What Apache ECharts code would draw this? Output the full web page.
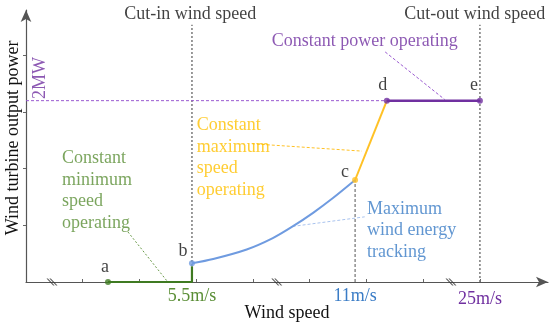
<!DOCTYPE html>
<html><head><meta charset="utf-8">
<script src="https://cdn.jsdelivr.net/npm/echarts@6/dist/echarts.min.js"></script>
<style>html,body{margin:0;padding:0;background:#fff}#c{width:550px;height:328px}</style>
</head><body><div id="c"></div>
<script>
// ---- data ----
const xTickLabels = ['5.5m/s', '11m/s', '25m/s'];
const xTickValues = [2.925, 5.80, 8.0];
const cutInX = 2.925, cutOutX = 8.0, ratedX = 5.80;
const ratedPower = 3.2;
const pointNames = ['a', 'b', 'c', 'd', 'e'];
const pointXY = [[1.445, 0], [2.925, 0.33], [5.80, 1.80], [6.36, 3.2], [8.0, 3.2]];
const minSpeedSeg = [[1.445, 0], [2.925, 0], [2.925, 0.28]];
const mpptCurve = [[2.925, 0.33], [3.30, 0.406], [3.89, 0.574], [4.35, 0.775], [4.70, 0.981], [5.06, 1.221], [5.41, 1.482], [5.80, 1.80]];
const maxSpeedSeg = [[5.80, 1.80], [6.36, 3.2]];
const constPowerSeg = [[6.36, 3.2], [8.0, 3.2]];
const breakXs = [0.458, 4.42, 7.49];
const xTicks = [1, 2, 3, 4, 5, 6, 7, 8];
const yTicks = [1, 2, 3, 4];

const GREEN = '#3f7a22', GREEN_T = '#5a8e36', BLUE = '#6f9be0', BLUE_T = '#3a7cc6',
      ORANGE = '#ffc125', ORANGE_T = '#ffc000', PURPLE = '#7030a0', GREY = '#7a7a7a';
const FONT = '"Liberation Serif", "Times New Roman", serif';
const FS = 18;

const chart = echarts.init(document.getElementById('c'));
function lineS(data, color, width, type, extra) {
  return Object.assign({ type: 'line', data: data, symbol: 'none', silent: true,
    lineStyle: { color: color, width: width, type: type }, z: 2 }, extra || {});
}
function note(x, y, text, color, align, vAlign) {
  return { value: [x, y], label: { show: true, formatter: text, color: color,
    align: align || 'left', verticalAlign: vAlign || 'top' } };
}
const labelColors = [GREEN_T, BLUE_T, PURPLE];
const letterOffsets = [[-3, -15], [-9, -12], [-10, -8], [-4, -15], [-6, -15]];
const pointColors = [GREEN, BLUE, ORANGE, PURPLE, PURPLE];

chart.setOption({
  animation: false,
  textStyle: { fontFamily: FONT },
  grid: { left: 26, right: 2, top: 10, bottom: 46, outerBoundsMode: 'none', containLabel: false },
  xAxis: {
    type: 'value', min: 0, max: 9.2,
    name: 'Wind speed', nameLocation: 'middle', nameGap: 22, nameMoveOverlap: false,
    nameTextStyle: { fontFamily: FONT, fontSize: FS, color: '#111' },
    axisLine: { lineStyle: { color: '#555', width: 1.2 }, symbol: ['none', 'arrow'], symbolSize: [8, 12] },
    axisTick: { show: true, inside: true, length: 3, customValues: xTicks, lineStyle: { color: '#666' } },
    axisLabel: { customValues: xTickValues, margin: 5, fontFamily: FONT, fontSize: FS,
      formatter: function (v) { const i = xTickValues.indexOf(v); return '{c' + i + '|' + xTickLabels[i] + '}'; },
      rich: { c0: { color: labelColors[0], fontFamily: FONT, fontSize: FS },
              c1: { color: labelColors[1], fontFamily: FONT, fontSize: FS },
              c2: { color: labelColors[2], fontFamily: FONT, fontSize: FS, padding: [3, 0, 0, 0] } } },
    splitLine: { show: false }
  },
  yAxis: {
    type: 'value', min: 0, max: 4.8,
    name: 'Wind turbine output power', nameLocation: 'middle', nameGap: 4, nameMoveOverlap: false,
    nameTextStyle: { fontFamily: FONT, fontSize: FS, color: '#111', padding: [0, 0, 0, 16] },
    axisLine: { show: true, lineStyle: { color: '#555', width: 1.2 }, symbol: ['none', 'arrow'], symbolSize: [8, 12] },
    axisTick: { show: true, length: 3, customValues: yTicks, lineStyle: { color: '#666' } },
    axisLabel: { show: false },
    splitLine: { show: false }
  },
  series: [
    lineS([[cutInX, 0], [cutInX, 4.54]], GREY, 1.5, [2, 2]),
    lineS([[cutOutX, 0], [cutOutX, 4.54]], GREY, 1.5, [2, 2]),
    lineS([[ratedX, 0], [ratedX, 1.80]], '#555', 1, [3, 2]),
    lineS([[0, ratedPower], [6.36, ratedPower]], '#9a5ad0', 1, [3, 2]),
    lineS([[1.797, 0.883], [2.485, 0.018]], '#6a9a4a', 1, [2, 2]),
    lineS([[3.98, 2.44], [5.92, 2.31]], ORANGE, 1, [3, 2]),
    lineS([[6.33, 4.06], [7.38, 3.22]], '#9a5ad0', 1, [3, 2]),
    lineS([[4.70, 0.981], [5.97, 1.15]], '#a9c3ee', 1, [3, 2]),
    lineS(minSpeedSeg, GREEN, 2.2, 'solid', { z: 3 }),
    lineS(mpptCurve, BLUE, 2, 'solid', { smooth: 0.3, z: 3 }),
    lineS(maxSpeedSeg, ORANGE, 2, 'solid', { z: 3 }),
    lineS(constPowerSeg, PURPLE, 2.5, 'solid', { z: 3 }),
    { type: 'scatter', silent: true, z: 5, symbolSize: 6,
      data: pointXY.map(function (p, i) { return { value: p, itemStyle: { color: pointColors[i] },
        label: { show: true, formatter: pointNames[i], position: 'inside', offset: letterOffsets[i],
          color: '#111', fontSize: FS, fontFamily: FONT } }; }) },
    { type: 'scatter', silent: true, z: 4,
      symbol: 'path://M0,0 L1.6,0 L9,7 L7.4,7 Z M3.2,0 L4.8,0 L12.2,7 L10.6,7 Z', symbolSize: [11, 7],
      itemStyle: { color: '#333' }, data: breakXs.map(function (x) { return [x, 0]; }) },
    { type: 'scatter', silent: true, z: 6, symbolSize: 0,
      label: { show: true, position: [0, 0], fontFamily: FONT, fontSize: FS, lineHeight: 21.5 },
      data: [
        note(cutInX - 0.03, 4.73, 'Cut-in wind speed', '#111', 'center', 'middle'),
        note(7.91, 4.73, 'Cut-out wind speed', '#111', 'center', 'middle'),
        note(4.33, 4.43, 'Constant power operating', PURPLE),
        note(0.634, 2.37, 'Constant\nminimum\nspeed\noperating', GREEN_T),
        note(3.01, 2.95, 'Constant\nmaximum\nspeed\noperating', ORANGE_T),
        note(6.01, 1.48, 'Maximum\nwind energy\ntracking', BLUE_T),
        { value: [0.25, 3.6], label: { show: true, formatter: '2MW', color: PURPLE, rotate: 90,
          align: 'center', verticalAlign: 'middle' } }
      ] }
  ]
});
</script></body></html>
